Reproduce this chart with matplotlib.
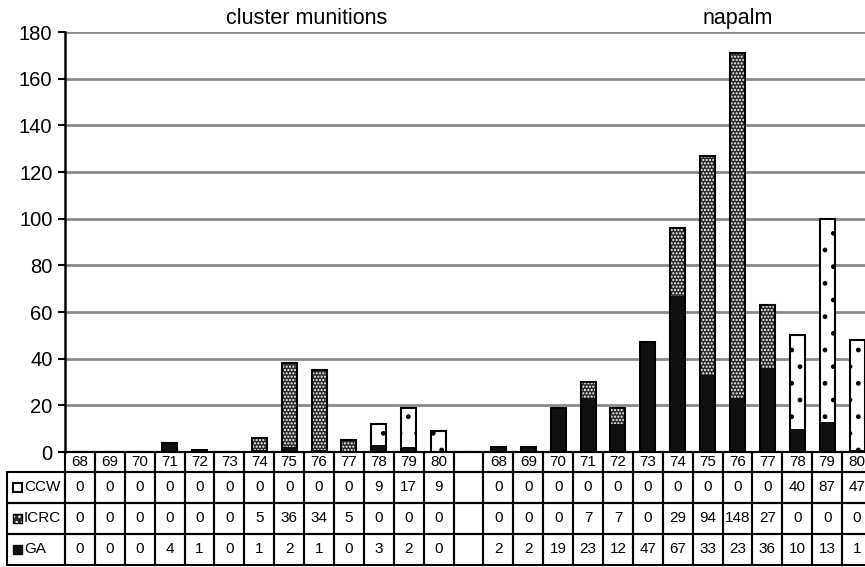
import numpy as np
import matplotlib
matplotlib.use('Agg')
from matplotlib import pyplot as plt
from matplotlib.patches import Rectangle
import matplotlib.transforms as mtransforms

plt.rcParams['font.family'] = ['Liberation Sans', 'DejaVu Sans']
plt.rcParams['hatch.linewidth'] = 1.0

# data -------------------------------------------------------------
years      = ['68','69','70','71','72','73','74','75','76','77','78','79','80']
ccw_clus   = [0,0,0,0,0,0,0,0,0,0,9,17,9]
icrc_clus  = [0,0,0,0,0,0,5,36,34,5,0,0,0]
ga_clus    = [0,0,0,4,1,0,1,2,1,0,3,2,0]
ccw_nap    = [0,0,0,0,0,0,0,0,0,0,40,87,47]
icrc_nap   = [0,0,0,7,7,0,29,94,148,27,0,0,0]
ga_nap     = [2,2,19,23,12,47,67,33,23,36,10,13,1]
row_names  = ['CCW','ICRC','GA']
yticks     = np.arange(0,200,20)
# ------------------------------------------------------------------

# one blank column between the two groups
labels = years + [''] + years
ccw  = np.array(ccw_clus  + [0] + ccw_nap, dtype=float)
icrc = np.array(icrc_clus + [0] + icrc_nap, dtype=float)
ga   = np.array(ga_clus   + [0] + ga_nap, dtype=float)
blank = len(years)
x = np.arange(len(labels))

fontsize = 14.5
width    = 0.5
fig = plt.figure(figsize=(8.65,5.67), dpi=100)
ax  = fig.add_axes([65/865, 115/567, 807/865, 420/567])

ax.set_axisbelow(True)
ax.yaxis.grid(True, color='#8a8a8a', linewidth=2)
ax.bar(x, ga, width, color='#111111', edgecolor='#111111', linewidth=0)
ax.bar(x, icrc, width, bottom=ga, color='#2a2a2a', edgecolor='white', linewidth=0, hatch='.....')
ax.bar(x, ccw, width, bottom=ga+icrc, color='white', edgecolor='black', linewidth=0, hatch='.')
tot = ga + icrc + ccw
ax.bar(x, tot, width, fill=False, edgecolor='black', linewidth=1.5)

ax.set_xlim(-0.5, len(labels)-0.5)
ax.set_ylim(0, 180)
ax.set_yticks(yticks)
ax.set_yticklabels([str(v) for v in yticks], fontsize=fontsize)
ax.set_xticks([])
ax.tick_params(axis='y', direction='out', length=5, width=1.5, pad=4)
for s in ['top','right']:
    ax.spines[s].set_visible(False)
ax.spines['left'].set_linewidth(1.8)
ax.spines['bottom'].set_linewidth(1.5)

trans = mtransforms.blended_transform_factory(ax.transData, ax.transAxes)
ax.text(7.6, 1.02, 'cluster munitions', transform=trans, ha='center', va='baseline', fontsize=15.5)
ax.text(22.0, 1.02, 'napalm', transform=trans, ha='center', va='baseline', fontsize=15.5)

# table below the bars (x in data, y in axes units)
rows_y = [0.0, -0.0476, -0.1214, -0.195, -0.269]
lab_x0 = -2.44
tfs    = 11
lw     = 1.5
for i, lab in enumerate(labels):
    ax.add_patch(Rectangle((i-0.5, rows_y[1]), 1, rows_y[0]-rows_y[1], transform=trans,
                           fill=False, edgecolor='black', linewidth=lw, clip_on=False))
    ax.text(i, (rows_y[0]+rows_y[1])/2, lab, transform=trans, ha='center', va='center', fontsize=tfs)
series = [ccw, icrc, ga]
for r in range(3):
    y0, y1 = rows_y[r+2], rows_y[r+1]
    ax.add_patch(Rectangle((lab_x0, y0), -0.5-lab_x0, y1-y0, transform=trans,
                           fill=False, edgecolor='black', linewidth=lw, clip_on=False))
    for i in range(len(labels)):
        ax.add_patch(Rectangle((i-0.5, y0), 1, y1-y0, transform=trans,
                               fill=False, edgecolor='black', linewidth=lw, clip_on=False))
        if i != blank:
            ax.text(i, (y0+y1)/2, '%d' % series[r][i], transform=trans, ha='center', va='center', fontsize=tfs)
    ax.text(-1.88, (y0+y1)/2, row_names[r], transform=trans, ha='left', va='center', fontsize=tfs)

# legend keys in the row labels
ym = [(rows_y[k+1]+rows_y[k+2])/2 for k in range(3)]
h  = 0.022
ax.add_patch(Rectangle((-2.24, ym[0]-h/2), 0.3, h, transform=trans, facecolor='white',
                       edgecolor='black', linewidth=1.5, clip_on=False))
ax.add_patch(Rectangle((-2.24, ym[1]-h/2), 0.3, h, transform=trans, facecolor='#2a2a2a',
                       edgecolor='white', linewidth=0, hatch='...', clip_on=False))
ax.add_patch(Rectangle((-2.24, ym[1]-h/2), 0.3, h, transform=trans, fill=False,
                       edgecolor='black', linewidth=1.0, clip_on=False))
ax.add_patch(Rectangle((-2.24, ym[2]-h/2), 0.3, h, transform=trans, facecolor='#111111',
                       edgecolor='#111111', linewidth=1.0, clip_on=False))

plt.savefig('out.png', dpi=100)
